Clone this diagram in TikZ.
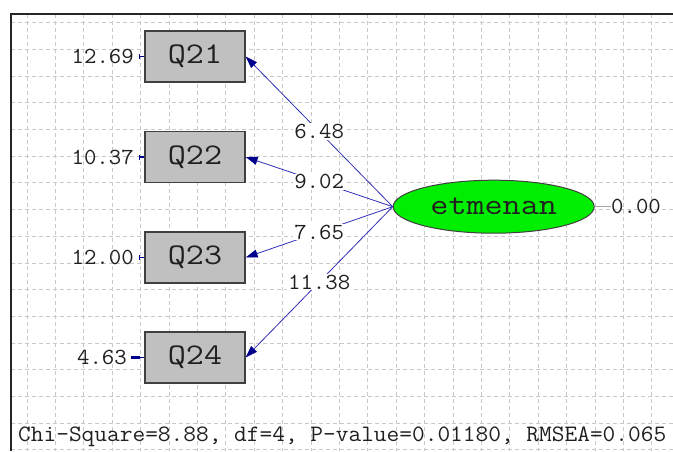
\documentclass[tikz,border=0pt]{standalone}
\usepackage{fontspec}
\newfontfamily\courbig[FakeStretch=1.17]{Latin Modern Mono}
\newfontfamily\coursmall[FakeStretch=1.05]{Latin Modern Mono}
\usetikzlibrary{arrows.meta,shapes.geometric}
\definecolor{gridgray}{HTML}{C8C8C8}
\definecolor{pathblue}{HTML}{3030B8}
\definecolor{tipnavy}{HTML}{00008C}
\definecolor{boxgray}{HTML}{C0C0C0}
\definecolor{edgegray}{HTML}{404040}
\definecolor{latgreen}{HTML}{00EE00}
\definecolor{txt}{HTML}{202020}
\tikzset{
  gridline/.style={draw=gridgray, line width=0.9, dash pattern=on 4 off 3},
  obsbox/.style={rectangle, draw=edgegray, line width=1.3, fill=boxgray,
    minimum width=100, minimum height=51, inner sep=0,
    font=\courbig\fontsize{30}{30}\selectfont, text=txt},
  latent/.style={ellipse, draw=edgegray, line width=1, fill=latgreen,
    minimum width=201, minimum height=53, inner sep=0,
    font=\courbig\fontsize{30}{30}\selectfont, text=txt},
  numlbl/.style={font=\coursmall\fontsize{23}{23}\selectfont, text=txt, inner sep=0},
  loadlbl/.style={numlbl, fill=white, inner sep=1},
  loading/.style={draw=pathblue, line width=0.8,
    -{Triangle[length=12,width=8,fill=tipnavy,color=tipnavy]}},
  errtick/.style={draw=tipnavy, line width=1.2, {Bar[width=5,line width=1]}-},
}
\begin{document}
\begin{tikzpicture}[x=1pt,y=-1pt]
\useasboundingbox (0,0) rectangle (673,451);
\fill[white] (0,0) rectangle (673,451);

% background grid
\foreach \k in {0,...,22}
  \draw[gridline] ({27+\k*28.4},14) -- ({27+\k*28.4},451);
\foreach \k in {0,...,16}
  \draw[gridline] (11,{22.7+\k*26.7}) -- (673,{22.7+\k*26.7});

% frame
\draw[line width=1.5, draw=black!85] (673,14) -- (11,14) -- (11,451);

% observed variables
\node[obsbox] (q21) at (195,56.5) {Q21};
\node[obsbox] (q22) at (195,157) {Q22};
\node[obsbox] (q23) at (195,257.5) {Q23};
\node[obsbox] (q24) at (195,357.5) {Q24};

% latent variable
\node[latent] (lat) at (493.7,206.7) {etmenan};

% error variances
\node[numlbl, anchor=east] (e1) at (134,56.5) {12.69};
\node[numlbl, anchor=east] (e2) at (134,157) {10.37};
\node[numlbl, anchor=east] (e3) at (134,257.5) {12.00};
\node[numlbl, anchor=east] (e4) at (127,357.5) {4.63};
\draw[errtick] ([xshift=5]e1.east) -- (q21.west);
\draw[errtick] ([xshift=5]e2.east) -- (q22.west);
\draw[errtick] ([xshift=5]e3.east) -- (q23.west);
\draw[draw=tipnavy, line width=3.5] ([xshift=4]e4.east) -- ([xshift=-4]q24.west);
\draw[draw=tipnavy, line width=1.2] ([xshift=-5]q24.west) -- (q24.west);

% latent residual
\node[numlbl] (r) at (636,206.7) {0.00};
\draw[draw=gray!70, line width=1] (lat.east) -- (r.west);

% loadings
\draw[loading] (lat.west) -- node[loadlbl]{6.48} (q21.east);
\draw[loading] (lat.west) -- node[loadlbl]{9.02} (q22.east);
\draw[loading] (lat.west) -- node[loadlbl]{7.65} (q23.east);
\draw[loading] (lat.west) -- node[loadlbl]{11.38} (q24.east);

% fit statistics
\node[numlbl, font=\coursmall\fontsize{23.5}{23.5}\selectfont, anchor=west] (fit) at (18,437)
  {Chi-Square=8.88, df=4, P-value=0.01180, RMSEA=0.065};
\end{tikzpicture}
\end{document}
